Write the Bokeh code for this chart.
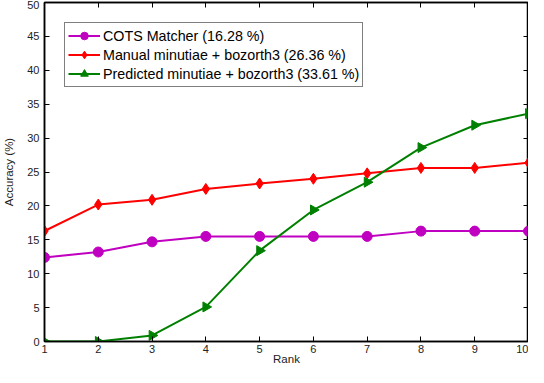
import numpy as np
from bokeh.plotting import figure
from bokeh.models import LinearAxis, Legend, LegendItem, FixedTicker, Range1d
from bokeh.embed import file_html
from bokeh.resources import INLINE

ranks = [1, 2, 3, 4, 5, 6, 7, 8, 9, 10]
cots = [12.4, 13.2, 14.7, 15.5, 15.5, 15.5, 15.5, 16.28, 16.28, 16.28]
manual = [16.3, 20.2, 20.9, 22.5, 23.3, 24.0, 24.8, 25.6, 25.6, 26.36]
predicted = [0.0, 0.0, 0.9, 5.1, 13.4, 19.4, 23.5, 28.6, 31.9, 33.61]
labels = ["COTS Matcher (16.28 %)", "Manual minutiae + bozorth3 (26.36 %)",
          "Predicted minutiae + bozorth3 (33.61 %)"]
y_ticks = [0, 5, 10, 15, 20, 25, 30, 35, 40, 45, 50]

FONT = "Liberation Sans"

p = figure(width=528, height=367, output_backend="svg", toolbar_location=None,
           x_range=Range1d(1, 10), y_range=Range1d(0, 50),
           min_border_left=36, min_border_right=0, min_border_top=2, min_border_bottom=18)
p.grid.visible = False
p.outline_line_color = "black"
p.outline_line_width = 1.5

for ax in (p.xaxis[0], p.yaxis[0]):
    ax.major_tick_in = 5
    ax.major_tick_out = 0
    ax.minor_tick_in = 0
    ax.minor_tick_out = 0
    ax.axis_line_width = 1.5
    ax.major_tick_line_width = 1
    ax.major_label_text_font = FONT
    ax.major_label_text_font_size = "11px"
    ax.major_label_text_color = "#222222"
    ax.axis_label_text_font = FONT
    ax.axis_label_text_font_size = "11.5px"
    ax.axis_label_text_font_style = "normal"
    ax.axis_label_text_color = "#222222"

p.xaxis[0].ticker = FixedTicker(ticks=ranks)
p.yaxis[0].ticker = FixedTicker(ticks=y_ticks)
p.xaxis[0].axis_label = "Rank"
p.yaxis[0].axis_label = "Accuracy (%)"
p.xaxis[0].major_label_standoff = 3
p.xaxis[0].axis_label_standoff = -3
p.yaxis[0].major_label_standoff = 5
p.yaxis[0].axis_label_standoff = 9

top = LinearAxis(ticker=FixedTicker(ticks=ranks),
                 major_label_overrides={t: "" for t in ranks},
                 major_label_text_font_size="0px",
                 major_tick_in=5, major_tick_out=0, minor_tick_in=0, minor_tick_out=0,
                 major_label_standoff=0, axis_line_width=1.5)
right = LinearAxis(ticker=FixedTicker(ticks=y_ticks),
                   major_label_overrides={t: "" for t in y_ticks},
                   major_label_text_font_size="0px",
                   major_tick_in=5, major_tick_out=0, minor_tick_in=0, minor_tick_out=0,
                   major_label_standoff=0, axis_line_width=1.5)
p.add_layout(top, "above")
p.add_layout(right, "right")

mag = "#C000C0"
red = "#FF0000"
grn = "#008000"

l1 = p.line(ranks, cots, line_color=mag, line_width=2)
m1 = p.scatter(ranks, cots, marker="circle", size=10, fill_color=mag, line_color=mag)
l2 = p.line(ranks, manual, line_color=red, line_width=2)
m2 = p.scatter(ranks, manual, marker="diamond", size=11, fill_color=red, line_color=red)
l3 = p.line(ranks, predicted, line_color=grn, line_width=2)
m3 = p.scatter(ranks, predicted, marker="triangle", size=10, angle=-np.pi / 2,
               fill_color=grn, line_color=grn)

legend = Legend(items=[LegendItem(label=labels[0], renderers=[l1, m1]),
                       LegendItem(label=labels[1], renderers=[l2, m2]),
                       LegendItem(label=labels[2], renderers=[l3, m3])],
                location="top_left")
legend.margin = 20
legend.padding = 3
legend.spacing = 0
legend.label_height = 19
legend.glyph_height = 19
legend.glyph_width = 32
legend.label_standoff = 3
legend.label_text_font = FONT
legend.label_text_font_size = "14.3px"
legend.label_text_color = "black"
legend.border_line_color = "black"
legend.border_line_width = 1.5
legend.background_fill_alpha = 1
p.add_layout(legend, "center")

open("out.html", "w").write(file_html(p, INLINE))
